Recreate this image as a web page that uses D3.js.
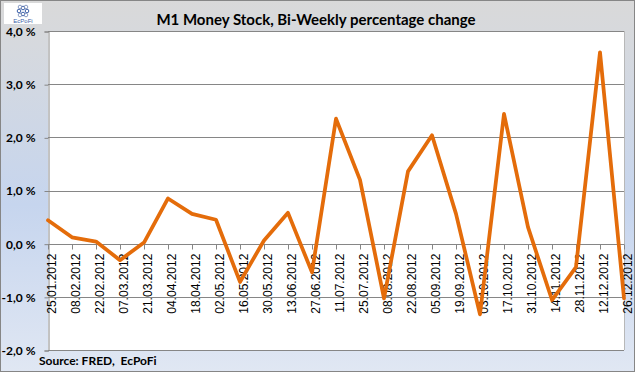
<!DOCTYPE html>
<html>
<head>
<meta charset="utf-8">
<script src="https://cdn.jsdelivr.net/npm/d3@7"></script>
<style>
  body { margin: 0; background: #fff; }
  svg { display: block; }
  text { white-space: pre; }
</style>
</head>
<body>
<div id="chart"></div>
<script>
// bi-weekly dates and % change
var dates = ["25.01.2012", "08.02.2012", "22.02.2012", "07.03.2012", "21.03.2012",
  "04.04.2012", "18.04.2012", "02.05.2012", "16.05.2012", "30.05.2012",
  "13.06.2012", "27.06.2012", "11.07.2012", "25.07.2012", "08.08.2012",
  "22.08.2012", "05.09.2012", "19.09.2012", "03.10.2012", "17.10.2012",
  "31.10.2012", "14.11.2012", "28.11.2012", "12.12.2012", "26.12.2012"];
var values = [0.44, 0.12, 0.04, -0.31, 0.02, 0.85, 0.56, 0.45, -0.72, 0.06,
  0.58, -0.54, 2.35, 1.20, -1.03, 1.36, 2.04, 0.56, -1.33, 2.44,
  0.31, -1.06, -0.44, 3.60, -1.03];
var yTicks = [-2, -1, 0, 1, 2, 3, 4];

var title = "M1 Money Stock, Bi-Weekly percentage change";
var source = "Source: FRED,  EcPoFi";

var width = 635, height = 372;
// note: "top" would clash with window.top
var plotLeft = 48, plotRight = 624, plotTop = 31, plotBottom = 350;
var lineColor = "#e46c0a";
var gridColor = "#868686";

var svg = d3.select("#chart").append("svg")
  .attr("width", width).attr("height", height);

var defs = svg.append("defs");
var grad = defs.append("linearGradient").attr("id", "bg")
  .attr("x1", 0).attr("y1", 0).attr("x2", 0).attr("y2", 1);
grad.append("stop").attr("offset", "0").attr("stop-color", "#d9d9d9");
grad.append("stop").attr("offset", "0.12").attr("stop-color", "#d6d9de");
grad.append("stop").attr("offset", "0.55").attr("stop-color", "#c6d5ee");
grad.append("stop").attr("offset", "1").attr("stop-color", "#e0e7f3");

svg.append("rect")
  .attr("x", 0.5).attr("y", 0.5)
  .attr("width", width - 1).attr("height", height - 1)
  .attr("fill", "url(#bg)").attr("stroke", gridColor);

var x = d3.scalePoint().domain(dates).range([plotLeft, plotRight]);
var y = d3.scaleLinear().domain([-2, 4]).range([plotBottom, plotTop]);

// plot area
svg.append("rect")
  .attr("x", plotLeft).attr("y", plotTop)
  .attr("width", plotRight - plotLeft).attr("height", plotBottom - plotTop)
  .attr("fill", "#fff");

// gridlines
svg.append("g").selectAll("line").data(yTicks).enter().append("line")
  .attr("x1", plotLeft).attr("x2", plotRight)
  .attr("y1", d => Math.round(y(d)) + 0.5).attr("y2", d => Math.round(y(d)) + 0.5)
  .attr("stroke", gridColor);
svg.append("line")
  .attr("x1", plotRight + 0.5).attr("x2", plotRight + 0.5)
  .attr("y1", plotTop).attr("y2", plotBottom)
  .attr("stroke", "#b8b8b8");

// y axis
var yAxis = svg.append("g")
  .attr("transform", "translate(" + (plotLeft + 0.5) + ",0.5)")
  .call(d3.axisLeft(y).tickValues(yTicks).tickSizeOuter(0).tickSize(4).tickPadding(9)
    .tickFormat(d => d3.format(".1f")(d).replace(".", ",").replace("−", "-") + " %"));
yAxis.select(".domain").attr("stroke", gridColor);
yAxis.selectAll(".tick line").attr("stroke", gridColor);
yAxis.selectAll("text")
  .attr("font-family", "Lato, 'Open Sans', sans-serif")
  .attr("font-weight", "bold").attr("font-size", 12).attr("fill", "#000");

// x axis on the zero line
var xAxis = svg.append("g")
  .attr("transform", "translate(0," + (Math.round(y(0)) + 0.5) + ")")
  .call(d3.axisBottom(x).tickSizeOuter(0).tickSize(5).tickFormat(""));
xAxis.select(".domain").remove();
xAxis.selectAll(".tick line").attr("stroke", gridColor);

svg.append("g").selectAll("text").data(dates).enter().append("text")
  .attr("transform", d => "translate(" + (x(d) + 3.5) + "," + (y(0) + 10) + ") rotate(-90)")
  .attr("text-anchor", "end")
  .attr("dy", "0.35em")
  .attr("font-family", "'Liberation Sans', Arial, sans-serif")
  .attr("font-size", 12).attr("fill", "#000")
  .text(d => d);

// the series
var line = d3.line()
  .x((d, i) => x(dates[i]))
  .y(d => y(d));
svg.append("path")
  .datum(values)
  .attr("d", line)
  .attr("fill", "none")
  .attr("stroke", lineColor)
  .attr("stroke-width", 3.75)
  .attr("stroke-linejoin", "round")
  .attr("stroke-linecap", "round");

// title and source
svg.append("text")
  .attr("x", 316).attr("y", 25)
  .attr("text-anchor", "middle")
  .attr("font-family", "Lato, 'Open Sans', sans-serif")
  .attr("font-weight", "bold").attr("font-size", 15).attr("fill", "#000")
  .text(title);
svg.append("text")
  .attr("x", 39).attr("y", 365)
  .attr("font-family", "Lato, 'Open Sans', sans-serif")
  .attr("font-weight", "bold").attr("font-size", 12).attr("fill", "#000")
  .text(source);

// logo
var logo = svg.append("g").attr("transform", "translate(4,3)");
logo.append("rect").attr("width", 38).attr("height", 21).attr("fill", "#fff");
var knots = [[19, 5], [15, 8], [23, 8], [19, 11], [16, 4], [22, 4], [16, 12], [22, 12]];
logo.selectAll("circle").data(knots).enter().append("circle")
  .attr("cx", d => d[0]).attr("cy", d => d[1]).attr("r", 1.8)
  .attr("fill", "none").attr("stroke", (d, i) => i < 4 ? "#3b5fa8" : "#8a9cc4").attr("stroke-width", 1);
logo.append("text")
  .attr("x", 19).attr("y", 20)
  .attr("text-anchor", "middle")
  .attr("font-family", "'Liberation Sans', Arial, sans-serif")
  .attr("font-size", 6).attr("fill", "#3b5fa8")
  .text("EcPoFi");
</script>
</body>
</html>
